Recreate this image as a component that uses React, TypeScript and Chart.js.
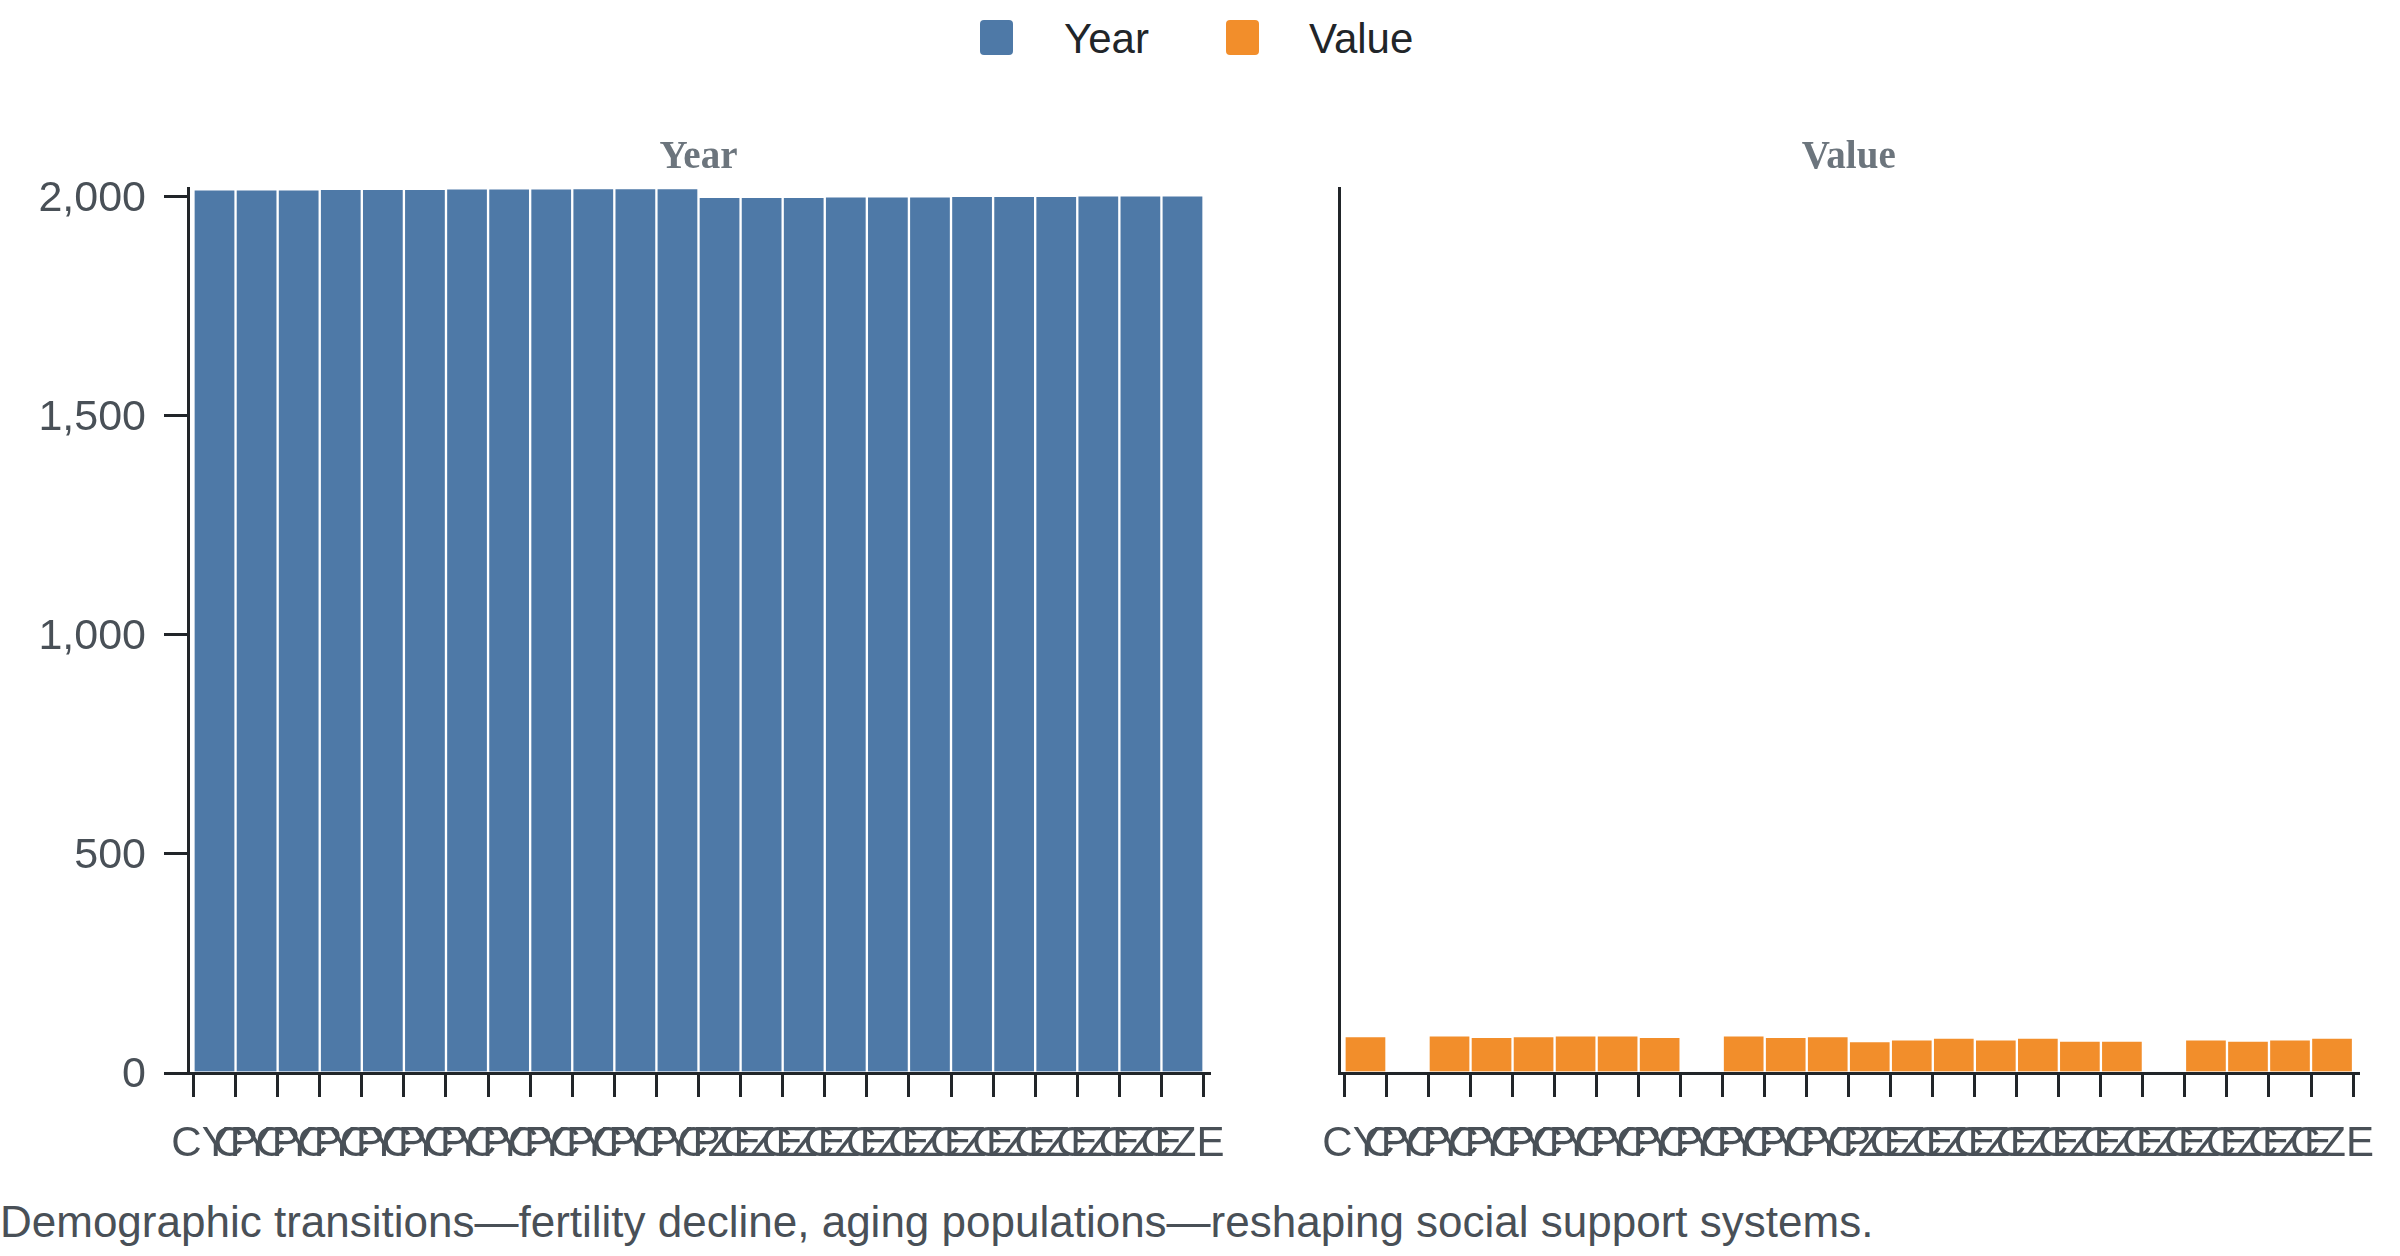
import React, { useEffect, useRef } from 'react';
import { Chart, registerables } from 'chart.js';

Chart.register(...registerables);

const countries = [
  'CYP', 'CYP', 'CYP', 'CYP', 'CYP', 'CYP', 'CYP', 'CYP', 'CYP', 'CYP', 'CYP', 'CYP',
  'CZE', 'CZE', 'CZE', 'CZE', 'CZE', 'CZE', 'CZE', 'CZE', 'CZE', 'CZE', 'CZE', 'CZE',
];
const years = [
  2017, 2017, 2017, 2018, 2018, 2018, 2019, 2019, 2019, 2020, 2020, 2020,
  2000, 2000, 2000, 2001, 2001, 2001, 2002, 2002, 2002, 2003, 2003, 2003,
];
const values = [
  84.5, null, 86, 82.3, 84.5, 86, 86, 82.3, null, 86, 82.3, 84.5,
  73, 77, 80.7, 77, 80.7, 73.8, 73.8, null, 77, 73.8, 77, 80.7,
];
const yTicks = [0, 500, 1000, 1500, 2000];
const seriesNames = ['Year', 'Value'];
const seriesColors = ['#4e79a7', '#f28e2b'];
const caption =
  'Demographic transitions\u2014fertility decline, aging populations\u2014reshaping social support systems.';

const SANS = "'Liberation Sans', Arial, sans-serif";
const SERIF = "'Liberation Serif', 'Times New Roman', serif";
const AXIS = '#212529';
const TEXT = '#495057';

function makeConfig(label: string, data: (number | null)[], color: string, showY: boolean, yWidth: number, padRight: number): any {
  return {
    type: 'bar',
    data: {
      datasets: [
        {
          label,
          data: data.map((v, i) => ({ x: i, y: v })),
          backgroundColor: color,
          borderColor: 'rgba(255,255,255,0.75)',
          borderWidth: 1.5,
          barPercentage: 1,
          categoryPercentage: 1,
        },
      ],
    },
    options: {
      animation: false,
      responsive: false,
      devicePixelRatio: 1,
      layout: { padding: { top: 0, right: padRight, bottom: 0, left: 0 } },
      plugins: {
        legend: { display: false },
        tooltip: { enabled: false },
        title: {
          display: true,
          text: label,
          fullSize: false,
          align: 'center',
          color: '#6c757d',
          font: { family: SERIF, size: 39, weight: 'bold', lineHeight: 1 },
          padding: { top: 138, bottom: 11 },
        },
      },
      scales: {
        x: {
          type: 'linear',
          offset: false,
          min: -0.63,
          max: countries.length - 1 + 0.63,
          afterBuildTicks: (s: any) => {
            s.ticks = countries.map((_, i) => ({ value: i }));
          },
          afterFit: (s: any) => {
            s.height = 120;
          },
          grid: {
            offset: true,
            drawOnChartArea: false,
            drawTicks: true,
            tickLength: 24,
            color: AXIS,
            lineWidth: 3,
          },
          border: { display: true, color: AXIS, width: 3 },
          ticks: {
            autoSkip: false,
            maxRotation: 0,
            minRotation: 0,
            padding: 22,
            color: TEXT,
            font: { family: SANS, size: 42 },
            callback: (v: number) => countries[v],
          },
        },
        y: {
          type: 'linear',
          min: 0,
          max: 2020,
          afterBuildTicks: (s: any) => {
            s.ticks = yTicks.map((v) => ({ value: v }));
          },
          afterFit: (s: any) => {
            s.width = yWidth;
          },
          grid: {
            drawOnChartArea: false,
            drawTicks: showY,
            tickLength: 24,
            color: AXIS,
            lineWidth: 3,
          },
          border: { display: true, color: AXIS, width: 3 },
          ticks: {
            display: showY,
            padding: 18,
            labelOffset: 2,
            color: TEXT,
            font: { family: SANS, size: 43 },
            callback: (v: number) => v.toLocaleString('en-US'),
          },
        },
      },
    },
  };
}

function Panel({ label, data, color, showY, yWidth, padRight, left, width }: any) {
  const ref = useRef<HTMLCanvasElement>(null);
  useEffect(() => {
    if (!ref.current) return;
    const chart = new Chart(ref.current, makeConfig(label, data, color, showY, yWidth, padRight));
    return () => chart.destroy();
  }, []);
  return (
    <canvas
      ref={ref}
      width={width}
      height={1193}
      style={{ position: 'absolute', left, top: 0, width, height: 1193 }}
    />
  );
}

export default function App() {
  return (
    <div style={{ position: 'absolute', left: 0, top: 0, width: 2400, height: 1256, background: '#fff', overflow: 'hidden' }}>
      <div style={{ position: 'absolute', left: 980, top: 20, width: 33, height: 35, background: seriesColors[0], borderRadius: 4 }} />
      <span style={{ position: 'absolute', left: 1064, top: 18, font: `42px ${SANS}`, lineHeight: '42px', color: '#212529', whiteSpace: 'nowrap' }}>
        {seriesNames[0]}
      </span>
      <div style={{ position: 'absolute', left: 1226, top: 20, width: 33, height: 35, background: seriesColors[1], borderRadius: 4 }} />
      <span style={{ position: 'absolute', left: 1309, top: 18, font: `42px ${SANS}`, lineHeight: '42px', color: '#212529', whiteSpace: 'nowrap' }}>
        {seriesNames[1]}
      </span>
      <Panel label={seriesNames[0]} data={years} color={seriesColors[0]} showY={true} yWidth={188} padRight={41} left={0} width={1250} />
      <Panel label={seriesNames[1]} data={values} color={seriesColors[1]} showY={false} yWidth={89} padRight={41.5} left={1250} width={1150} />
      <div style={{ position: 'absolute', left: 0, top: 1200, font: `44px ${SANS}`, lineHeight: '44px', color: TEXT, whiteSpace: 'nowrap' }}>
        {caption}
      </div>
    </div>
  );
}
